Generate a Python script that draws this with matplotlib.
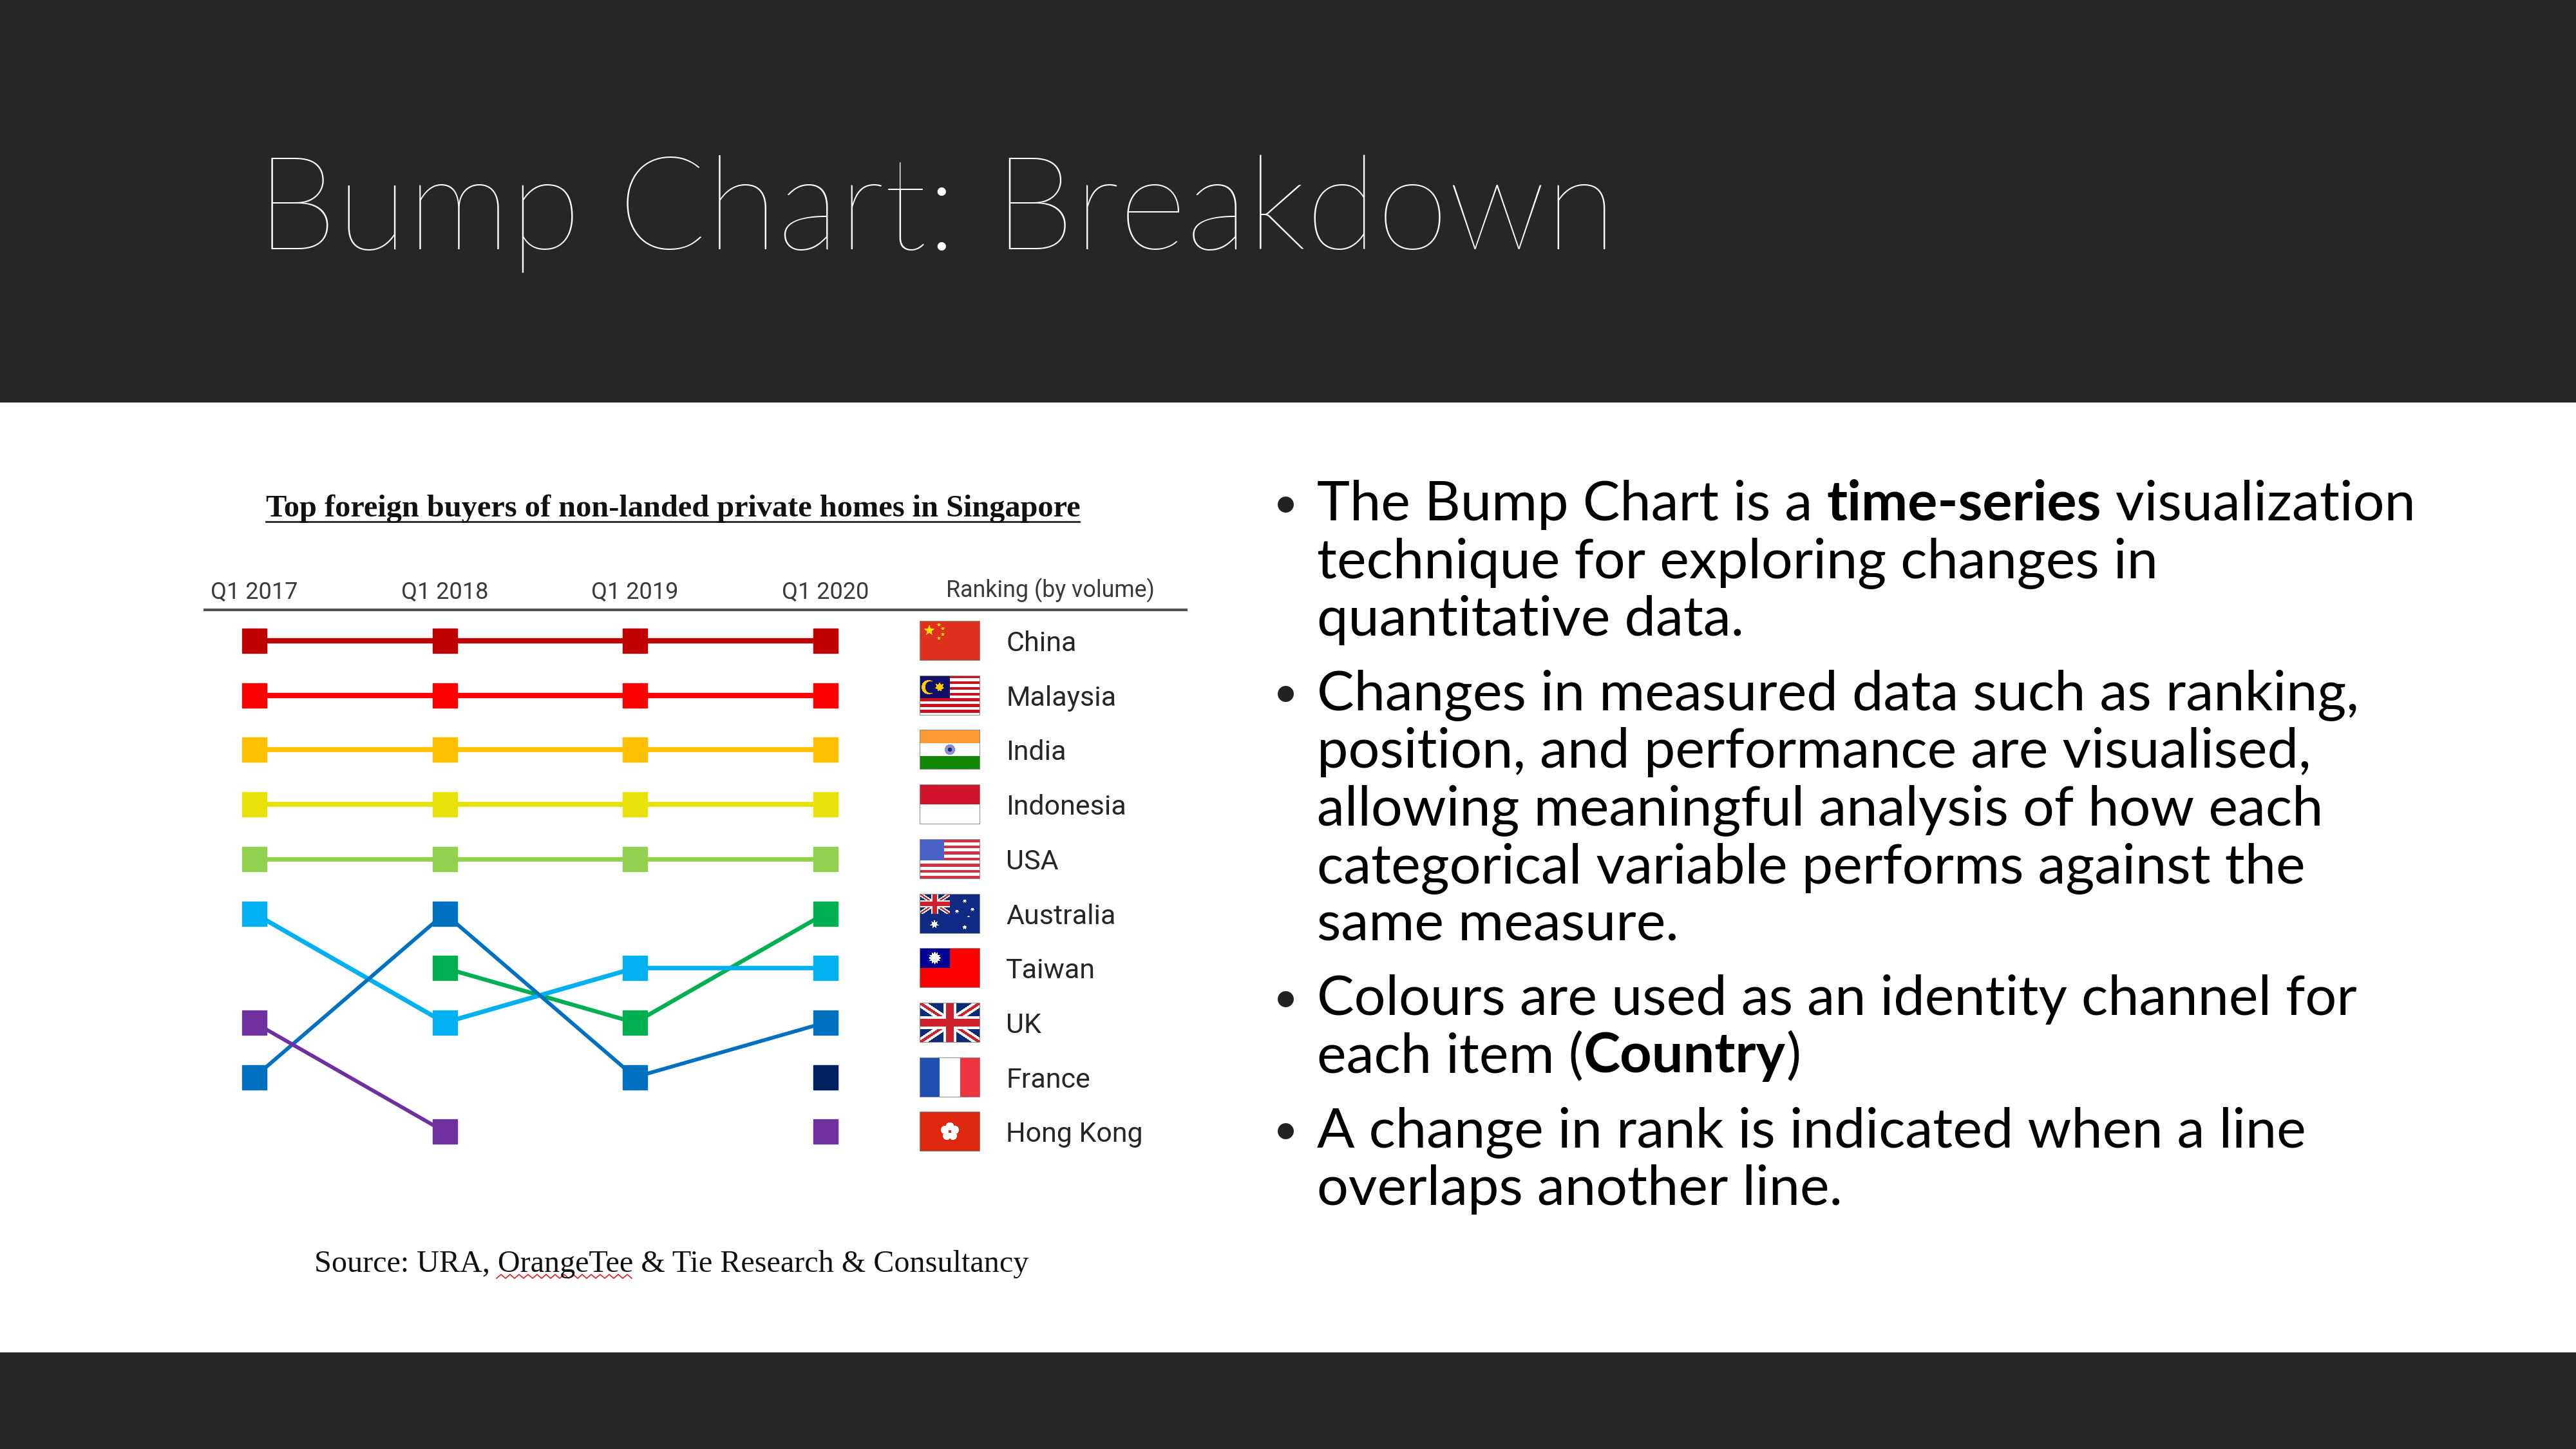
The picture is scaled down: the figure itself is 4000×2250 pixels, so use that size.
import numpy as np
import matplotlib
matplotlib.use('Agg')
import matplotlib.pyplot as plt
from matplotlib.path import Path
from matplotlib.colors import to_rgb

# ---- data -----------------------------------------------------------------
nan = np.nan
periods = ['Q1 2017', 'Q1 2018', 'Q1 2019', 'Q1 2020']
countries = ['China', 'Malaysia', 'India', 'Indonesia', 'USA',
             'Australia', 'Taiwan', 'UK', 'France', 'Hong Kong']
legend_rank = [1, 2, 3, 4, 5, 6, 7, 8, 9, 10]

rank_china = [1, 1, 1, 1]
rank_malaysia = [2, 2, 2, 2]
rank_india = [3, 3, 3, 3]
rank_indonesia = [4, 4, 4, 4]
rank_usa = [5, 5, 5, 5]
rank_australia = [nan, 7, 8, 6]
rank_taiwan = [6, 8, 7, 7]
rank_uk = [9, 6, 9, 8]
rank_france = [nan, nan, nan, 9]
rank_hong_kong = [8, 10, nan, 10]

line_colours = ['#C00000', '#FF0000', '#FFC000', '#E8E10A', '#92D050',
                '#00B050', '#00B0F0', '#0070C0', '#002060', '#7030A0']

slide_title = 'Bump Chart: Breakdown'
chart_title = 'Top foreign buyers of non-landed private homes in Singapore'
source_text = 'Source: URA, OrangeTee & Tie Research & Consultancy'
legend_title = 'Ranking (by volume)'

# each bullet is a list of lines, each line a list of (text, bold) runs
bullets = [
    [[('The Bump Chart is a ', False), ('time-series', True), (' visualization', False)],
     [('technique for exploring changes in', False)],
     [('quantitative data.', False)]],
    [[('Changes in measured data such as ranking,', False)],
     [('position, and performance are visualised,', False)],
     [('allowing meaningful analysis of how each', False)],
     [('categorical variable performs against the', False)],
     [('same measure.', False)]],
    [[('Colours are used as an identity channel for', False)],
     [('each item (', False), ('Country', True), (')', False)]],
    [[('A change in rank is indicated when a line', False)],
     [('overlaps another line.', False)]],
]

DARK = '#262626'
BODY_FONT = ['Lato', 'DejaVu Sans']
NARROW_FONT = ['Liberation Sans Narrow', 'Roboto', 'DejaVu Sans']
LABEL_FONT = ['Roboto', 'DejaVu Sans']
SERIF_FONT = ['Liberation Serif', 'DejaVu Serif']

fig = plt.figure(figsize=(40, 22.5), dpi=100)
renderer = fig.canvas.get_renderer()

# background axes in pixel units
bg = fig.add_axes([0, 0, 1, 1])
bg.set_xlim(0, 4000)
bg.set_ylim(2250, 0)
bg.axis('off')
bg.add_patch(plt.Rectangle((0, 0), 4000, 625, color=DARK, lw=0))
bg.add_patch(plt.Rectangle((0, 2100), 4000, 150, color=DARK, lw=0))


def fit_text(ax, x, y, s, width, size=40, **kw):
    t = ax.text(x, y, s, fontsize=size, **kw)
    w = t.get_window_extent(renderer).width
    t.set_fontsize(size * width / w)
    return t


def text_width(s, size, bold):
    t = bg.text(0, 0, s, fontsize=size, family=BODY_FONT,
                fontweight='bold' if bold else 'normal')
    w = t.get_window_extent(renderer).width
    t.remove()
    return w


def space_width(size, bold):
    return text_width('n n', size, bold) - text_width('nn', size, bold)


def run_width(s, size, bold):
    core = s.strip()
    n_sp = len(s) - len(s.lstrip()) + len(s) - len(s.rstrip())
    w = text_width(core, size, bold) if core else 0
    return w + n_sp * space_width(size, bold)


def line_width(runs, size):
    return sum(run_width(s, size, b) for s, b in runs)


# slide title
fit_text(bg, 398, 388, slide_title, 2112, size=140, color='white',
         family=BODY_FONT, fontweight='light', va='baseline')

# bullet text size fitted to two reference line widths
s1 = 60 * 1696 / line_width(bullets[0][0], 60)
s2 = 60 * 1315 / line_width(bullets[0][1], 60)
body_size = (s1 + s2) / 2

y = 808
for p, para in enumerate(bullets):
    bg.text(1997, y - 4, '\u2022', fontsize=body_size * 0.78, family=BODY_FONT,
            ha='center', va='baseline', color='#222222')
    for runs in para:
        x = 2045
        for s, bold in runs:
            lead = len(s) - len(s.lstrip())
            x += lead * space_width(body_size, bold)
            core = s.strip()
            if core:
                bg.text(x, y, core, fontsize=body_size, family=BODY_FONT,
                        fontweight='bold' if bold else 'normal',
                        va='baseline', color='black')
                x += text_width(core, body_size, bold)
            trail = len(s) - len(s.rstrip())
            x += trail * space_width(body_size, bold)
        y += 89.5
    y += 26

# chart title (underlined) and source
fit_text(bg, 413, 802, chart_title, 1263, size=30, family=SERIF_FONT,
         fontweight='bold', va='baseline', color='#111111')
bg.plot([413, 1676], [810, 810], color='#222222', lw=2)
fit_text(bg, 488, 1975, source_text, 1110, size=30, family=SERIF_FONT,
         va='baseline', color='#111111')
wx = np.arange(771, 988, 7)
bg.plot(wx, 1982 + 3 * (-1) ** np.arange(len(wx)), color='#E02020', lw=1.2)

# ---- bump chart axes --------------------------------------------------------
COL_X0, COL_DX = 395, 295.5
ROW_Y0, ROW_DY = 995, 84.7
AX_L, AX_R, AX_T, AX_B = 300, 1850, 850, 2000


def px_x(px):
    return (px - COL_X0) / COL_DX


def px_r(py):
    return 1 + (py - ROW_Y0) / ROW_DY


ax = fig.add_axes([AX_L / 4000, 1 - AX_B / 2250, (AX_R - AX_L) / 4000,
                   (AX_B - AX_T) / 2250])
ax.set_facecolor('none')
ax.axis('off')

series = [rank_china, rank_malaysia, rank_india, rank_indonesia, rank_usa,
          rank_australia, rank_taiwan, rank_uk, rank_france, rank_hong_kong]
widths = [6, 6, 5.6, 5.6, 5.2, 4.6, 5.0, 4.2, 4.2, 4.2]
xpos = np.arange(len(periods))
for vals, col, lw in zip(series, line_colours, widths):
    ax.plot(xpos, vals, color=col, lw=lw, marker='s', ms=28,
            mfc=col, mec=col, solid_capstyle='butt')

for i, p in enumerate(periods):
    ax.text(i, px_r(930), p, ha='center', va='baseline', fontsize=26,
            family=NARROW_FONT, color='#3a3a3a')
t = ax.text(px_x(1469), px_r(927), legend_title, va='baseline',
            fontsize=24, family=NARROW_FONT, color='#3a3a3a')
t.set_fontsize(24 * 324 / t.get_window_extent(renderer).width)
ax.axhline(px_r(947), xmin=(318 - AX_L) / (AX_R - AX_L),
           xmax=(1842 - AX_L) / (AX_R - AX_L), color='#505050', lw=3)

# ---- flags ------------------------------------------------------------------
FH, FW = 62, 94
gy, gx = np.mgrid[0:FH, 0:FW] + 0.5
pts = np.column_stack([gx.ravel(), gy.ravel()])


def canvas(col):
    img = np.empty((FH, FW, 3))
    img[:] = to_rgb(col)
    return img


def paint(img, mask, col):
    img[mask] = to_rgb(col)


def star(cx, cy, r, n=5, inner=0.4):
    a = np.pi / 2 + np.arange(2 * n) * np.pi / n
    rr = np.where(np.arange(2 * n) % 2 == 0, r, r * inner)
    poly = Path(np.column_stack([cx + rr * np.cos(a), cy - rr * np.sin(a)]))
    return poly.contains_points(pts).reshape(FH, FW)


def disc(cx, cy, r):
    return (gx - cx) ** 2 + (gy - cy) ** 2 <= r * r


def union_jack(img, w, h):
    inside = (gx < w) & (gy < h)
    paint(img, inside, '#0A2A7A')
    d1 = np.abs(h * gx - w * gy) / np.hypot(w, h)
    d2 = np.abs(h * gx + w * gy - w * h) / np.hypot(w, h)
    paint(img, inside & ((d1 < h * 0.1) | (d2 < h * 0.1)), 'white')
    paint(img, inside & ((d1 < h * 0.035) | (d2 < h * 0.035)), '#D0202E')
    paint(img, inside & ((np.abs(gx - w / 2) < h / 6) | (np.abs(gy - h / 2) < h / 6)), 'white')
    paint(img, inside & ((np.abs(gx - w / 2) < h / 10) | (np.abs(gy - h / 2) < h / 10)), '#D0202E')


def flag_china():
    img = canvas('#E0301E')
    paint(img, star(15, 15, 9), '#FFDE00')
    for cx, cy in [(30, 6), (36, 12), (36, 21), (30, 27)]:
        paint(img, star(cx, cy, 3.5), '#FFDE00')
    return img


def flag_malaysia():
    img = canvas('white')
    paint(img, np.floor(gy / FH * 14) % 2 == 0, '#CC1020')
    paint(img, (gx < FW * 0.5) & (gy < FH * 8 / 14), '#10106A')
    paint(img, disc(14, 18, 11) & ~disc(18, 18, 9.5), '#FFCC00')
    paint(img, star(31, 18, 8, n=7, inner=0.55), '#FFCC00')
    return img


def flag_india():
    img = canvas('white')
    paint(img, gy < FH / 3, '#FF9933')
    paint(img, gy > 2 * FH / 3, '#138808')
    paint(img, disc(FW / 2, FH / 2, 8), '#8A8ECC')
    paint(img, disc(FW / 2, FH / 2, 3), '#202080')
    return img


def flag_indonesia():
    img = canvas('white')
    paint(img, gy < FH / 2, '#D0122A')
    return img


def flag_usa():
    img = canvas('white')
    paint(img, np.floor(gy / FH * 13) % 2 == 0, '#D03040')
    paint(img, (gx < FW * 0.4) & (gy < FH * 7 / 13), '#4A62C8')
    return img


def flag_australia():
    img = canvas('#0E2A84')
    union_jack(img, FW / 2, FH / 2)
    paint(img, star(23, 47, 7, n=7, inner=0.5), 'white')
    for cx, cy, r in [(70, 11, 3.6), (58, 27, 3.6), (82, 24, 3.6), (70, 52, 4), (76, 35, 2)]:
        paint(img, star(cx, cy, r, n=7, inner=0.5), 'white')
    return img


def flag_taiwan():
    img = canvas('#FE0000')
    paint(img, (gx < FW / 2) & (gy < FH / 2), '#000095')
    paint(img, star(FW / 4, FH / 4, 10, n=12, inner=0.7), 'white')
    return img


def flag_uk():
    img = canvas('#0A2A7A')
    union_jack(img, FW, FH)
    return img


def flag_france():
    img = canvas('white')
    paint(img, gx < FW / 3, '#1F4FB0')
    paint(img, gx > 2 * FW / 3, '#EF3340')
    return img


def flag_hong_kong():
    img = canvas('#DE2910')
    cx, cy = FW / 2, FH / 2
    for k in range(5):
        a = np.pi / 2 + k * 2 * np.pi / 5
        paint(img, disc(cx + 8 * np.cos(a), cy - 8 * np.sin(a), 6.5), 'white')
    paint(img, disc(cx, cy, 2.5), '#DE2910')
    return img


flags = [flag_china, flag_malaysia, flag_india, flag_indonesia, flag_usa,
         flag_australia, flag_taiwan, flag_uk, flag_france, flag_hong_kong]

fx0, fx1 = px_x(1428), px_x(1522)
half_h = (FH / 2) / ROW_DY
for name, r, make in zip(countries, legend_rank, flags):
    img = make()
    img[[0, -1], :] = to_rgb('#8c8c8c')
    img[:, [0, -1]] = to_rgb('#8c8c8c')
    ax.imshow(img, extent=(fx0, fx1, r + half_h, r - half_h),
              origin='upper', aspect='auto', interpolation='bilinear', zorder=3)
    ax.text(px_x(1562), r + 16 / ROW_DY, name, va='baseline', fontsize=31,
            family=LABEL_FONT, color='#262626')

ax.set_xlim(px_x(AX_L), px_x(AX_R))
ax.set_ylim(px_r(AX_B), px_r(AX_T))

fig.savefig('out.png', dpi=100, facecolor='white')
